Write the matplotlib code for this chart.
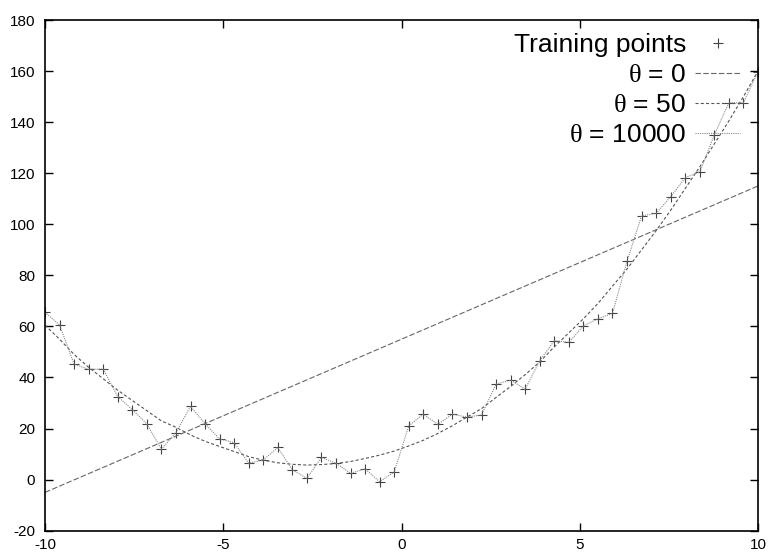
import numpy as np
import matplotlib
matplotlib.use('Agg')
import matplotlib.pyplot as plt

plt.rcParams['font.family'] = ['Liberation Sans', 'DejaVu Sans']
plt.rcParams['mathtext.fontset'] = 'custom'
plt.rcParams['mathtext.rm'] = 'Liberation Serif'
plt.rcParams['mathtext.it'] = 'Liberation Serif:italic'
plt.rcParams['lines.scale_dashes'] = False
plt.rcParams['axes.unicode_minus'] = False

# training points, 50 samples on [-10, 10]
x_points = np.linspace(-10, 10, 50)
y_points = [65.5, 60.6, 45.2, 43.2, 43.3, 32.5, 27.4, 21.8, 11.9, 18.4,
            28.7, 21.9, 15.9, 14.5, 6.4, 7.7, 12.6, 3.8, 0.5, 8.7,
            6.4, 2.5, 4.2, -0.8, 3.0, 21.1, 25.6, 21.7, 25.6, 24.5,
            25.3, 37.4, 39.0, 35.4, 46.6, 54.4, 53.8, 60.2, 63.0, 65.1,
            85.6, 103.3, 104.3, 110.8, 118.3, 120.5, 135.0, 147.6, 147.6, 159.8]

# theta = 0 : straight line fit
x_lin = [-10, 10]
y_lin = [-5, 115]

# theta = 50 : smooth fit, sampled at the training x values
y_smooth = [60.5, 55.0, 49.0, 44.0, 39.5, 35.0, 31.0, 27.0, 23.0, 20.5,
            17.5, 15.0, 13.0, 11.0, 9.0, 7.6, 6.6, 6.0, 5.7, 5.9,
            6.3, 7.1, 8.3, 9.6, 11.2, 13.2, 15.4, 18.1, 21.1, 24.5,
            27.8, 32.2, 36.5, 41.1, 46.1, 52.0, 57.5, 63.0, 69.0, 75.8,
            82.5, 90.0, 97.5, 105.5, 114.0, 122.5, 131.5, 140.5, 150.0, 160.0]

x_ticks = [-10, -5, 0, 5, 10]
y_ticks = [-20, 0, 20, 40, 60, 80, 100, 120, 140, 160, 180]

fig = plt.figure(figsize=(7.71, 5.55), dpi=100)
ax = fig.add_axes([45 / 771, 24.3 / 555, 713 / 771, 510.7 / 555])

ax.plot(x_points, y_points, linestyle='none', marker='+', markersize=7,
        markeredgewidth=0.8, color='#444444', label='Training points')
ax.plot(x_lin, y_lin, color='#666666', linewidth=0.8, dashes=(4.0, 1.6),
        label=r'$\mathrm{\theta}$ = 0')
ax.plot(x_points, y_smooth, color='#555555', linewidth=0.8, dashes=(2.2, 1.6),
        label=r'$\mathrm{\theta}$ = 50')
ax.plot(x_points, y_points, color='#888888', linewidth=0.8, dashes=(0.8, 0.8),
        label=r'$\mathrm{\theta}$ = 10000')

ax.set_xlim(-10, 10)
ax.set_ylim(-20, 180)
ax.set_xticks(x_ticks)
ax.set_yticks(y_ticks)
ax.tick_params(direction='in', length=6, width=1, top=True, right=True,
               labelsize=11, colors='black')
ax.tick_params(axis='y', pad=7)
ax.tick_params(axis='x', pad=5)
for s in ax.spines.values():
    s.set_linewidth(1.2)

leg = ax.legend(loc='upper right', bbox_to_anchor=(0.975, 0.975),
                frameon=False, markerfirst=False, fontsize=19,
                handlelength=1.7, handletextpad=0.35, labelspacing=0.23,
                borderpad=0, borderaxespad=0)

fig.savefig('out.png', dpi=100)
